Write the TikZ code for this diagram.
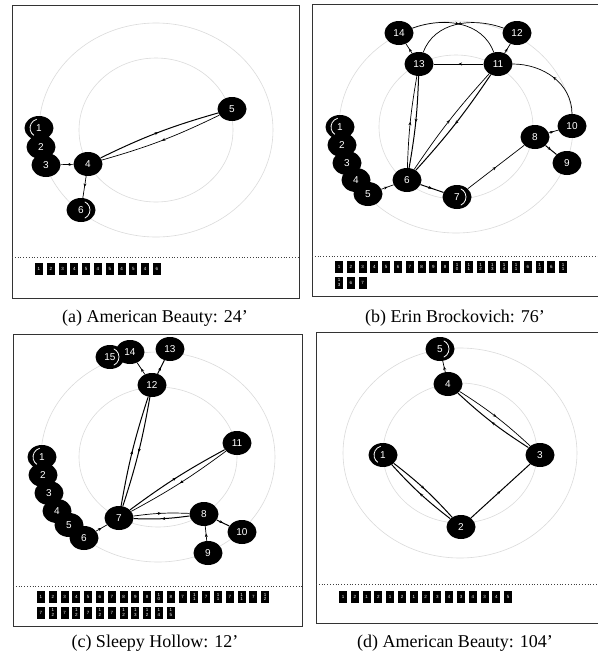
\documentclass[tikz,border=0pt]{standalone}
\usepackage{fontspec}
\setmainfont{Liberation Serif}
\newfontfamily\nodefont{Liberation Sans}
\usetikzlibrary{arrows.meta,decorations.markings,shapes.geometric}

% box label: two-digit numbers are stacked, tens digit on top
\newcommand\tlabel[1]{\ifnum#1>9 1\\\the\numexpr#1-10\relax\else#1\fi}
% one row of scene boxes: name prefix, x of first centre, y, list
\newcommand\timeline[4]{%
  \foreach \v [count=\i from 0] in {#4}{%
    \node[tbox] (#1\i) at ({#2+11.8*\i},#3) {\tlabel{\v}};}}
% white marks for the first and the last scene
\newcommand\scenestart[1]{\draw[loopmark] ([shift={(105:9pt)}]#1.center) arc[start angle=105,end angle=235,radius=9pt];}
\newcommand\scenefinal[1]{\draw[loopmark] ([shift={(-65:9pt)}]#1.center) arc[start angle=-65,end angle=65,radius=9pt];}

\tikzset{
  frame/.style={draw=black!80, line width=0.9pt},
  ring/.style={draw=black!14, line width=0.6pt},
  sep/.style={draw=black!75, line width=0.8pt, dotted},
  scene/.style={ellipse, fill=black, text=white, minimum width=29pt, minimum height=24pt,
    inner sep=0pt, font=\nodefont\fontsize{10}{10}\selectfont},
  tbox/.style={rectangle, fill=black, text=white, minimum width=8pt, minimum height=12pt,
    inner sep=0pt, align=center, font=\nodefont\fontsize{4.5}{4.5}\selectfont},
  link/.style={line width=0.7pt, black, postaction={decorate},
    decoration={markings, mark=at position 0.5 with {\arrow{Stealth[length=3.5pt,width=3pt]}}}},
  heavy/.style={link, line width=1pt},
  loopmark/.style={draw=white, line width=0.8pt},
  caption/.style={font=\fontsize{18}{18}\selectfont, inner sep=0pt}
}

\begin{document}
\begin{tikzpicture}[x=1pt,y=1pt]
\useasboundingbox[fill=white] (0,0) rectangle (598,-657);

% ---------------- (a) ----------------
\draw[frame] (12,-5) rectangle (299,-298);
\draw[ring] (156,-130) ellipse[x radius=77pt, y radius=72pt];
\draw[ring] (156,-130) ellipse[x radius=117pt, y radius=107pt];
\node[scene] (a1) at (39,-128) {1};
\node[scene] (a2) at (41,-147) {2};
\node[scene] (a3) at (46,-165) {3};
\node[scene] (a4) at (88,-164) {4};
\node[scene] (a5) at (232,-109) {5};
\node[scene] (a6) at (81,-210) {6};
\scenestart{a1}\scenefinal{a6}
\draw[heavy] (a4) to[bend left=5] (a5);
\draw[link] (a5) to[bend left=5] (a4);
\draw[link] (a4) -- (a3);
\draw[link] (a4) -- (a6);
\draw[sep] (12,-257) -- (299,-257);
\timeline{ta}{39}{-269}{1,2,3,4,5,4,5,4,5,4,6}
\node[caption] (capa) at (155,-318) {(a) American Beauty: 24'};

% ---------------- (b) ----------------
\draw[frame] (312,-4) rectangle (601,-296);
\draw[ring] (456,-127) ellipse[x radius=77pt, y radius=72pt];
\draw[ring] (456,-127) ellipse[x radius=117pt, y radius=106pt];
\node[scene] (b1) at (340,-127) {1};
\node[scene] (b2) at (342,-145) {2};
\node[scene] (b3) at (347,-163) {3};
\node[scene] (b4) at (356,-180) {4};
\node[scene] (b5) at (368,-194) {5};
\node[scene] (b6) at (407,-180) {6};
\node[scene] (b7) at (457,-197) {7};
\node[scene] (b8) at (535,-137) {8};
\node[scene] (b9) at (567,-163) {9};
\node[scene] (b10) at (572,-126) {10};
\node[scene] (b11) at (498,-64) {11};
\node[scene] (b12) at (517,-33) {12};
\node[scene] (b13) at (419,-64) {13};
\node[scene] (b14) at (399,-33) {14};
\scenestart{b1}\scenefinal{b7}
\draw[link] (b5) -- (b6);
\draw[heavy] (b6) -- (b7);
\draw[link] (b7) -- (b8);
\draw[heavy] (b8) -- (b9);
\draw[link] (b8) -- (b10);
\draw[link] (b10) to[out=90,in=0] (b11);
\draw[link] (b11) -- (b12);
\draw[link] (b12) to[out=160,in=70] (b13);
\draw[link] (b13) -- (b14);
\draw[link] (b14) to[out=20,in=110] (b11);
\draw[link] (b11) -- (b13);
\draw[heavy] (b11) to[bend left=4] (b6);
\draw[link] (b6) to[bend left=4] (b11);
\draw[link] (b6) to[bend left=4] (b13);
\draw[heavy] (b13) to[bend left=4] (b6);
\draw[sep] (312,-256) -- (598,-256);
\timeline{tb}{339}{-267}{1,2,3,4,5,6,7,8,9,8,10,11,12,13,14,11,6,13,6,11}
\timeline{tbx}{339}{-282.5}{13,6,7}
\node[caption] (capb) at (455,-318) {(b) Erin Brockovich: 76'};

% ---------------- (c) ----------------
\draw[frame] (13,-334) rectangle (302,-626);
\draw[ring] (158,-457) ellipse[x radius=79pt, y radius=70pt];
\draw[ring] (158,-457) ellipse[x radius=117pt, y radius=105pt];
\node[scene] (c1) at (42,-457) {1};
\node[scene] (c2) at (43,-475) {2};
\node[scene] (c3) at (49,-493) {3};
\node[scene] (c4) at (57,-511) {4};
\node[scene] (c5) at (69,-525) {5};
\node[scene] (c6) at (84,-538) {6};
\node[scene] (c7) at (119,-518) {7};
\node[scene] (c8) at (204,-514) {8};
\node[scene] (c9) at (208,-553) {9};
\node[scene] (c10) at (242,-532) {10};
\node[scene] (c11) at (237,-443) {11};
\node[scene] (c12) at (152,-385) {12};
\node[scene] (c13) at (170,-349) {13};
\node[scene] (c14) at (130,-352) {14};
\node[scene] (c15) at (110,-357) {15};
\scenestart{c1}\scenefinal{c15}
\draw[link] (c6) -- (c7);
\draw[link] (c7) to[bend left=5] (c8);
\draw[heavy] (c8) to[bend left=5] (c7);
\draw[link] (c9) -- (c8);
\draw[heavy] (c8) -- (c10);
\draw[heavy] (c7) to[bend left=4] (c11);
\draw[link] (c11) to[bend left=4] (c7);
\draw[heavy] (c7) to[bend left=4] (c12);
\draw[heavy] (c12) to[bend left=4] (c7);
\draw[heavy] (c12) -- (c13);
\draw[link] (c12) -- (c14);
\draw[sep] (13,-586) -- (302,-586);
\timeline{tc}{41}{-597}{1,2,3,4,5,6,7,8,9,8,10,8,7,11,7,11,7,11,7,12}
\timeline{tcx}{41}{-612.5}{7,12,7,12,7,12,7,12,13,12,14,15}
\node[caption] (capc) at (155,-643) {(c) Sleepy Hollow: 12'};

% ---------------- (d) ----------------
\draw[frame] (316,-332) rectangle (601,-623);
\draw[ring] (460,-453) ellipse[x radius=77pt, y radius=70pt];
\draw[ring] (460,-453) ellipse[x radius=117pt, y radius=105pt];
\node[scene] (d1) at (383,-455) {1};
\node[scene] (d2) at (461,-527) {2};
\node[scene] (d3) at (540,-455) {3};
\node[scene] (d4) at (448,-384) {4};
\node[scene] (d5) at (440,-349) {5};
\scenestart{d1}\scenefinal{d5}
\draw[heavy] (d1) to[bend left=5] (d2);
\draw[heavy] (d2) to[bend left=5] (d1);
\draw[heavy] (d2) -- (d3);
\draw[heavy] (d3) to[bend left=5] (d4);
\draw[link] (d4) to[bend left=5] (d3);
\draw[link] (d4) -- (d5);
\draw[sep] (316,-584) -- (598,-584);
\timeline{td}{343}{-597}{1,2,1,2,1,2,1,2,3,4,3,4,3,4,5}
\node[caption] (capd) at (455,-643) {(d) American Beauty: 104'};
\end{tikzpicture}
\end{document}
